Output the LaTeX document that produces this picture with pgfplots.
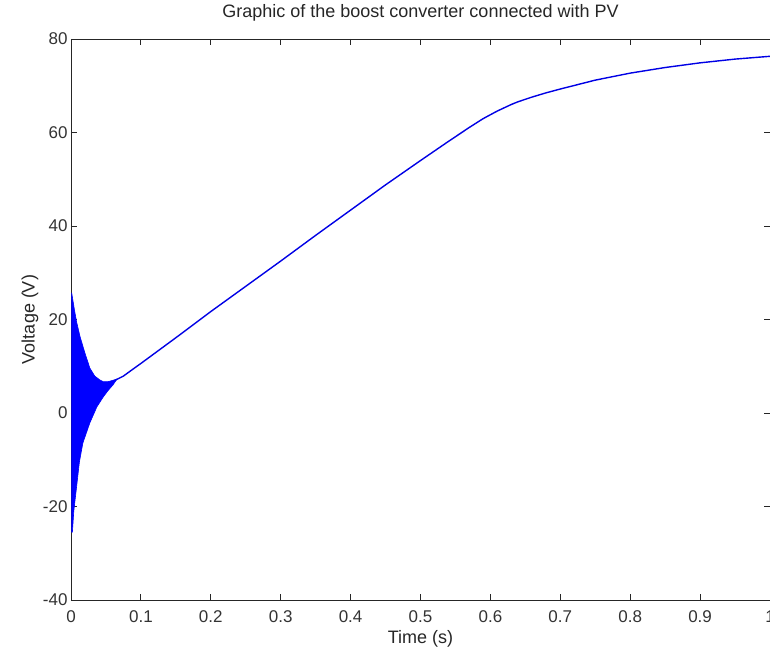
\documentclass[border=0pt]{standalone}
\usepackage{pgfplots}
\pgfplotsset{compat=1.18}
\usepackage{fontspec}
\setmainfont{Liberation Sans}
\begin{document}
\begin{tikzpicture}
\begin{axis}[name=ax, scale only axis, width=699pt, height=561pt,
  xmin=0, xmax=1, ymin=-40, ymax=80,
  xtick={0,0.1,0.2,0.3,0.4,0.5,0.6,0.7,0.8,0.9,1},
  xticklabels={0,0.1,0.2,0.3,0.4,0.5,0.6,0.7,0.8,0.9,1},
  ytick={-40,-20,0,20,40,60,80},
  yticklabels={-40,-20,0,20,40,60,80},
  tick align=inside, major tick length=6pt,
  axis line style={black!85, line width=0.9pt},
  every tick/.style={black!85, line width=0.9pt},
  ticklabel style={font=\fontsize{17}{17}\selectfont, text=black!80},
  xticklabel style={anchor=base, yshift=-22pt},
  title={Graphic of the boost converter connected with PV},
  title style={font=\fontsize{18}{18}\selectfont, text=black!85, at={(0.5,1)}, anchor=base, yshift=15pt},
  xlabel={Time (s)},
  xlabel style={font=\fontsize{18}{18}\selectfont, text=black!85, at={(0.5,0)}, anchor=base, yshift=-43pt},
  ylabel={Voltage (V)},
  ylabel style={font=\fontsize{18}{18}\selectfont, text=black!85, at={(0,0.5)}, anchor=center, yshift=41pt},
]
\addplot[draw=blue, fill=blue, line width=0.6pt, line join=round] coordinates {
(0.001,25.7) (0.005,22.0) (0.008,19.5) (0.013,16.3) (0.02,12.8) (0.027,9.6)
(0.034,7.9) (0.041,7.1) (0.046,6.7) (0.053,6.7) (0.06,7.0) (0.066,7.3)
(0.06,6.0) (0.053,4.8) (0.046,3.4) (0.037,1.3) (0.027,-2.1) (0.017,-6.4)
(0.012,-10.5) (0.008,-15.8) (0.004,-21.0) (0.002,-25.5) (0.001,-25.5)
} -- cycle;
\addplot[blue!90!black, line width=1.4pt, line join=round] coordinates {
(0.063,7.0) (0.075,7.9) (0.086,9.1) (0.1,10.6) (0.15,16.1) (0.2,21.7)
(0.25,27.1) (0.3,32.5) (0.35,38.0) (0.4,43.4) (0.45,48.8) (0.5,54.0)
(0.54,58.1) (0.57,61.1) (0.59,63.0) (0.6,63.8) (0.61,64.6) (0.62,65.3)
(0.63,66.0) (0.64,66.6) (0.65,67.1) (0.66,67.6) (0.68,68.5) (0.7,69.3)
(0.75,71.2) (0.8,72.7) (0.85,73.9) (0.9,74.9) (0.95,75.7) (1.0,76.3)
};
\end{axis}
\pgfresetboundingbox
\path[use as bounding box] ([shift={(-71pt,-54pt)}]ax.south west) rectangle ([shift={(0pt,39pt)}]ax.north east);
\end{tikzpicture}
\end{document}
